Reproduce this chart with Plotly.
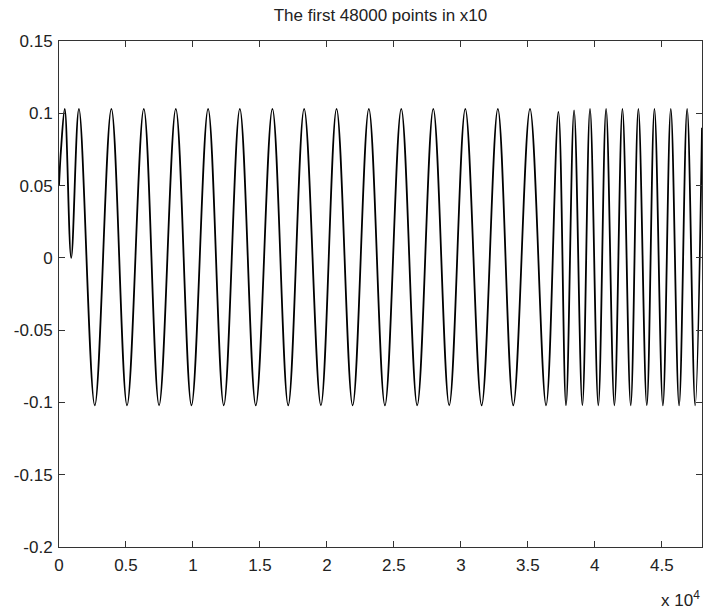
import plotly.graph_objects as go

# Extremes and key points of the x10 waveform
sample_idx = [0, 150, 430, 910, 1490, 2670, 3910, 5080, 6330, 7470, 8720, 9890,
              11130, 12300, 13500, 14690, 15930, 17110, 18300, 19550, 20720,
              21920, 23130, 24330, 25550, 26740, 27940, 29130, 30330, 31550,
              32760, 33910, 35160, 36360, 37280, 37850, 38450, 39070, 39640,
              40260, 40840, 41460, 42060, 42680, 43250, 43880, 44450, 45080,
              45670, 46290, 46890, 47490, 48000]
amplitude = [0.05, 0.075, 0.103, 0.0, 0.103, -0.102, 0.103, -0.102, 0.103, -0.102,
             0.103, -0.102, 0.103, -0.102, 0.103, -0.102, 0.103, -0.102, 0.103,
             -0.102, 0.103, -0.102, 0.103, -0.102, 0.103, -0.102, 0.103, -0.102,
             0.103, -0.102, 0.103, -0.102, 0.103, -0.102, 0.101, -0.102, 0.102,
             -0.102, 0.103, -0.102, 0.103, -0.102, 0.103, -0.102, 0.103, -0.102,
             0.103, -0.102, 0.103, -0.102, 0.103, -0.102, 0.09]

x_ticks = [0, 5000, 10000, 15000, 20000, 25000, 30000, 35000, 40000, 45000]
x_tick_text = ["0", "0.5", "1", "1.5", "2", "2.5", "3", "3.5", "4", "4.5"]
y_ticks = [-0.2, -0.15, -0.1, -0.05, 0, 0.05, 0.1, 0.15]
y_tick_text = ["-0.2", "-0.15", "-0.1", "-0.05", "0", "0.05", "0.1", "0.15"]

FONT = "Liberation Sans, Arial, sans-serif"

fig = go.Figure()
fig.add_trace(go.Scatter(
    x=sample_idx, y=amplitude, mode="lines",
    line=dict(color="black", width=1.8, shape="spline", smoothing=1.0),
    showlegend=False, hoverinfo="skip",
))

axis_common = dict(
    showgrid=False, zeroline=False, showline=True, linecolor="#333333",
    linewidth=1, mirror="ticks", ticks="inside", ticklen=6,
    tickcolor="#333333", tickwidth=1,
    tickfont=dict(family=FONT, size=17, color="#222222"),
)

fig.update_layout(
    width=704, height=612,
    margin=dict(l=59, r=2, t=41, b=65),
    paper_bgcolor="white", plot_bgcolor="white",
    title=dict(text="The first 48000 points in x10", x=0.5, xref="paper",
               xanchor="center", y=1 - 15 / 612, yanchor="middle",
               font=dict(family=FONT, size=17, color="#222222")),
    xaxis=dict(range=[0, 48000], tickvals=x_ticks, ticktext=x_tick_text,
               ticklabelstandoff=3, **axis_common),
    yaxis=dict(range=[-0.2, 0.15], tickvals=y_ticks, ticktext=y_tick_text,
               ticklabelstandoff=2, **axis_common),
    annotations=[dict(text="x 10<sup>4</sup>", xref="paper", yref="paper",
                      x=1.0, y=-0.103, xanchor="right", yanchor="middle",
                      showarrow=False,
                      font=dict(family=FONT, size=17, color="#222222"))],
)

fig.write_html("out.html")
